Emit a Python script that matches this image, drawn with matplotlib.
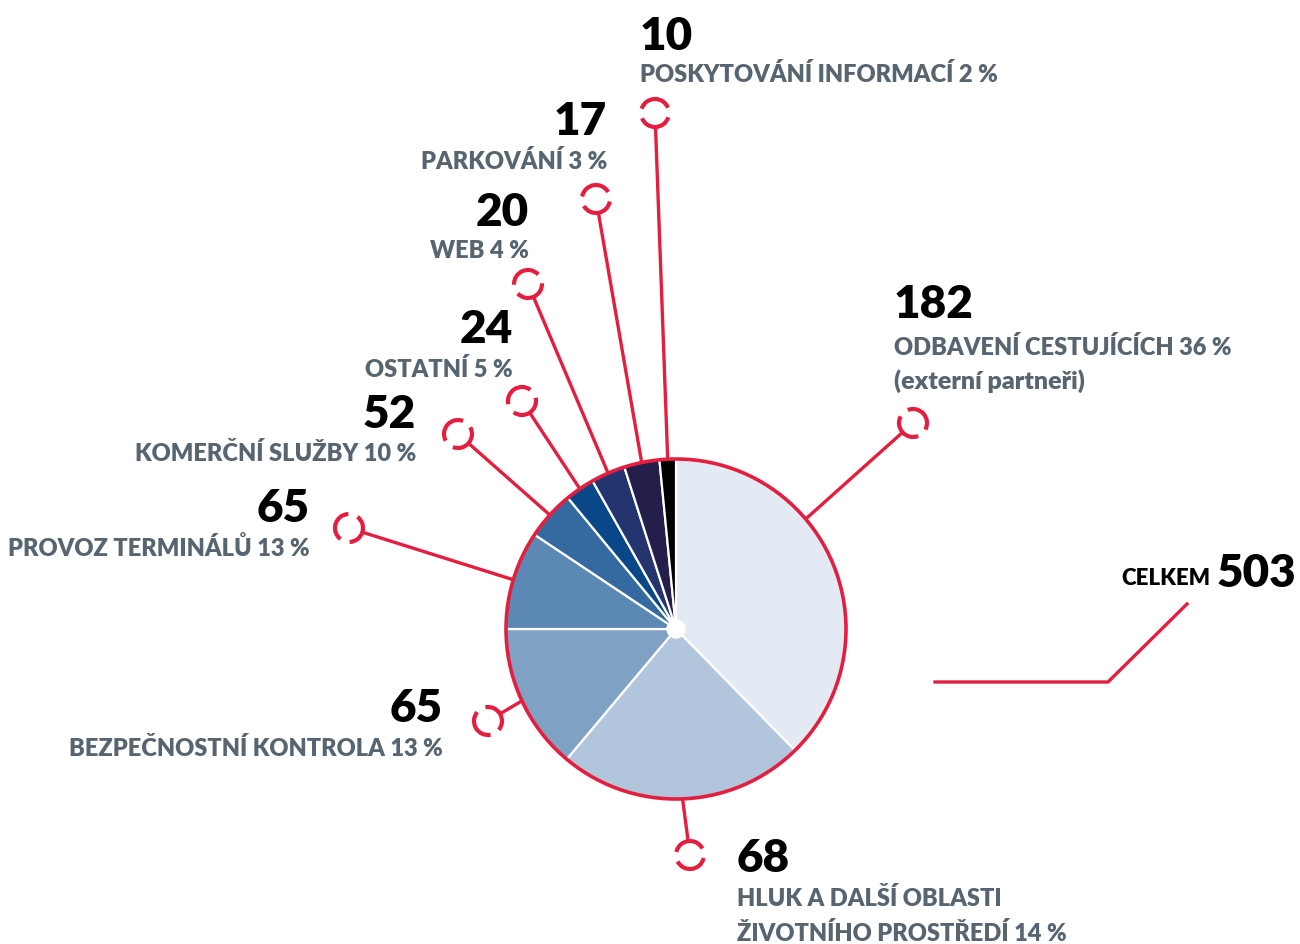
import numpy as np
import matplotlib
matplotlib.use("Agg")
import matplotlib.pyplot as plt
from matplotlib.patches import Arc, Circle

# data
counts = [182, 68, 65, 65, 52, 24, 20, 17, 10]
shares = [36, 14, 13, 13, 10, 5, 4, 3, 2]
names = ["ODBAVENÍ CESTUJÍCÍCH", "HLUK A DALŠÍ OBLASTI\nŽIVOTNÍHO PROSTŘEDÍ",
         "BEZPEČNOSTNÍ KONTROLA", "PROVOZ TERMINÁLŮ", "KOMERČNÍ SLUŽBY",
         "OSTATNÍ", "WEB", "PARKOVÁNÍ", "POSKYTOVÁNÍ INFORMACÍ"]
# the wedges in the original are not drawn to scale, spans (deg)
wedge_deg = [135.6, 84.4, 50.0, 33.7, 16.8, 10.1, 11.7, 12.1, 5.6]
total = 503

colors = ["#E3EAF3", "#B1C6DC", "#7FA1C4", "#5B88B4", "#356AA0",
          "#0A4788", "#23346E", "#231E4A", "#000000"]
RED = "#E41E3F"
GREY = "#56656F"

W, H = 1300, 944
FONT = "Lato"


def py(y):
    # picture rows -> data y
    return H - y


fig = plt.figure(figsize=(13, 9.44), dpi=100)
ax = fig.add_axes([0, 0, 1, 1])

cx, cy, R = 676, py(629), 170
wedges, _ = ax.pie(wedge_deg, colors=colors, startangle=90, counterclock=False,
                   center=(cx, cy), radius=R,
                   wedgeprops=dict(edgecolor="white", linewidth=1.6))
ax.add_patch(Circle((cx, cy), R, fill=False, edgecolor=RED, linewidth=2.6, zorder=5))
ax.add_patch(Circle((cx, cy), 9, color="white", zorder=6))

# marker centres (pixels) for each slice callout
markers = [(913, 423), (690, 855), (488, 721), (349, 528), (458, 434),
           (522, 401), (528, 284), (596, 199), (655, 113)]
mr = 14
for i, w in enumerate(wedges):
    ang = np.deg2rad((w.theta1 + w.theta2) / 2)
    if i == 0:
        ang = np.deg2rad(40.3)
    ex, ey = cx + R * np.cos(ang), cy + R * np.sin(ang)
    mx, my = markers[i][0], py(markers[i][1])
    d = np.degrees(np.arctan2(ey - my, ex - mx))
    sx, sy = mx + mr * np.cos(np.deg2rad(d)), my + mr * np.sin(np.deg2rad(d))
    ax.plot([sx, ex], [sy, ey], color=RED, lw=2.4, solid_capstyle="butt", zorder=4)
    g = 20
    ax.add_patch(Arc((mx, my), 2 * mr, 2 * mr, theta1=d - 90 + g, theta2=d + 90 - g,
                     color=RED, lw=3.0))
    ax.add_patch(Arc((mx, my), 2 * mr, 2 * mr, theta1=d + 90 + g, theta2=d + 270 - g,
                     color=RED, lw=3.0))

# label anchors: x, number baseline, first label baseline, alignment
labels_pos = [
    (894, 318, 355, "left"),
    (737, 872, 906, "left"),
    (443, 722, 756, "right"),
    (310, 522, 556, "right"),
    (416, 428, 461, "right"),
    (513, 343, 377, "right"),
    (529, 226, 258, "right"),
    (607, 135, 169, "right"),
    (640, 50, 82, "left"),
]
num_kw = dict(fontsize=33, fontweight="heavy", color="black", family=FONT, va="baseline")
lab_kw = dict(fontsize=17, fontweight="heavy", color=GREY, family=FONT, va="baseline")
for i, (x, yn, yl, ha) in enumerate(labels_pos):
    ax.text(x, py(yn), str(counts[i]), ha=ha, **num_kw)
    lab = names[i] + " %d %%" % shares[i]
    for k, line in enumerate(lab.split("\n")):
        ax.text(x, py(yl + k * 35), line, ha=ha, **lab_kw)
ax.text(894, py(389), "(externí partneři)", ha="left",
        **dict(lab_kw, fontsize=18))

# total
ax.text(1211, py(585), "CELKEM", ha="right", fontsize=16, fontweight="heavy",
        color="black", family=FONT, va="baseline")
ax.text(1296, py(587), str(total), ha="right", **num_kw)
ax.plot([935, 1108, 1187], [py(682), py(682), py(604)], color=RED, lw=2.4,
        solid_joinstyle="miter")

ax.set_xlim(0, W)
ax.set_ylim(0, H)
ax.set_aspect("equal")
ax.axis("off")

fig.savefig("out.png", dpi=100)
